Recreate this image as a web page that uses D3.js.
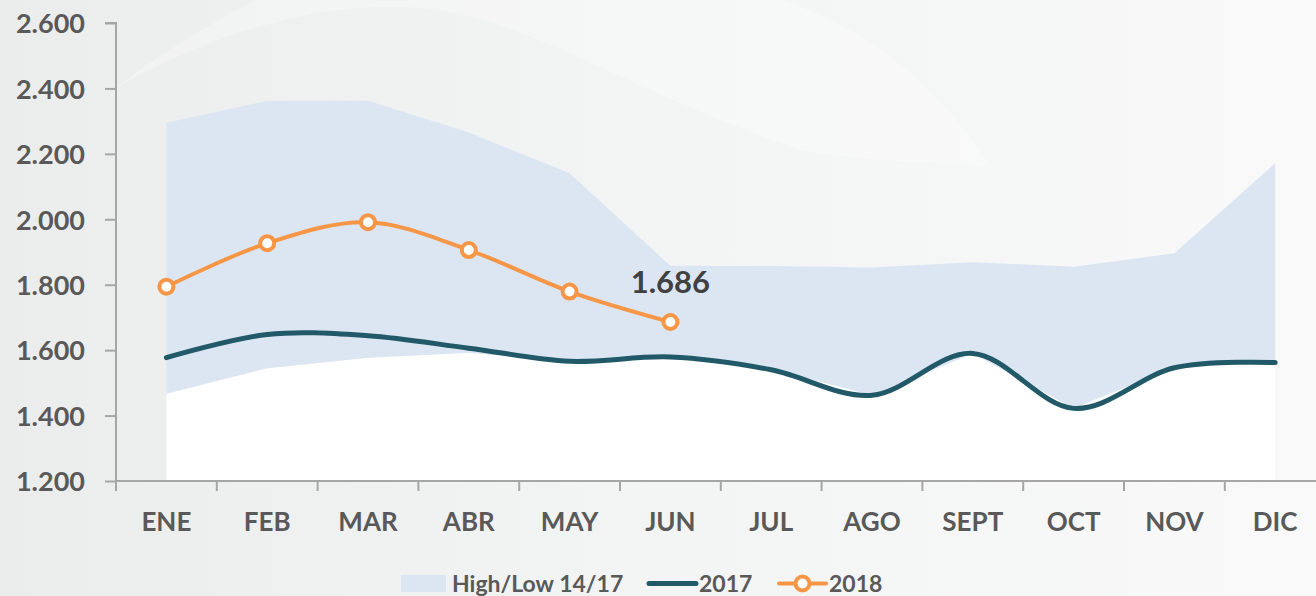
<!DOCTYPE html>
<html>
<head>
	<meta charset="UTF-8">
	<title>High/Low 14/17</title>
	<script src="https://d3js.org/d3.v7.min.js"></script>
	<style>
		body { margin: 0; background: #f0f0f0; }
		text { font-family: Lato, "Open Sans", sans-serif; font-weight: 700; }
	</style>
</head>
<body>
	<div id="chart"></div>

	<script>
		let months = ["ENE", "FEB", "MAR", "ABR", "MAY", "JUN", "JUL", "AGO", "SEPT", "OCT", "NOV", "DIC"];
		let high = [2295, 2362, 2362, 2265, 2141, 1858, 1857, 1853, 1869, 1855, 1896, 2172];
		let low = [1467, 1545, 1577, 1592, 1565, 1578, 1542, 1462, 1590, 1422, 1546, 1562];
		let y2017 = [1577, 1648, 1644, 1606, 1566, 1579, 1540, 1462, 1590, 1422, 1546, 1562];
		let y2018 = [1794, 1927, 1991, 1906, 1779, 1686];
		let yTicks = [1200, 1400, 1600, 1800, 2000, 2200, 2400, 2600];
		let legendLabels = ["High/Low 14/17", "2017", "2018"];

		let width = 1316;
		let height = 596;
		let left = 116;
		let step = 100.8;

		let svg = d3.select("#chart").append("svg")
			.attr("width", width)
			.attr("height", height);

		// background gradient + faint swoosh
		let defs = svg.append("defs");
		let grad = defs.append("linearGradient").attr("id", "bg");
		grad.append("stop").attr("offset", "0%").attr("stop-color", "#ebecec");
		grad.append("stop").attr("offset", "50%").attr("stop-color", "#f3f4f4");
		grad.append("stop").attr("offset", "100%").attr("stop-color", "#f9f9f9");
		svg.append("rect").attr("width", width).attr("height", height).attr("fill", "url(#bg)");

		svg.append("path")
			.attr("d", "M116,88 C200,40 300,5 400,7 C520,10 600,80 800,150 C880,165 950,160 992,168 C960,120 900,40 783,0 L255,0 C200,30 150,60 116,88 Z")
			.attr("fill", "#ffffff")
			.attr("opacity", 0.28);

		let fmt = d3.formatLocale({ decimal: ",", thousands: ".", grouping: [3], currency: ["", ""] }).format(",d");

		let x = d3.scaleBand()
			.domain(months)
			.range([left, left + step * months.length]);
		let cx = d => x(d) + x.bandwidth() / 2;

		let y = d3.scaleLinear()
			.domain([1200, 2600])
			.range([481, 23]);

		// white base under the low line, blue band between low and high
		let baseArea = d3.area()
			.x((d, i) => cx(months[i]))
			.y0(y(1200))
			.y1(d => y(d));
		svg.append("path")
			.datum(low)
			.attr("d", baseArea)
			.attr("fill", "#ffffff");

		let band = d3.area()
			.x((d, i) => cx(months[i]))
			.y0((d, i) => y(low[i]))
			.y1(d => y(d));
		svg.append("path")
			.datum(high)
			.attr("d", band)
			.attr("fill", "#dce6f2");

		// axes
		let yAxis = d3.axisLeft(y)
			.tickValues(yTicks)
			.tickSize(11)
			.tickPadding(20)
			.tickFormat(fmt);
		let gy = svg.append("g")
			.attr("transform", `translate(${left},0)`)
			.call(yAxis);
		gy.select(".domain").attr("stroke", "#a6a6a6").attr("stroke-width", 2)
			.attr("d", `M-11,${y(2600)}H0V${y(1200) + 10}`);
		gy.selectAll(".tick line").attr("stroke", "#a6a6a6").attr("stroke-width", 2);
		gy.selectAll(".tick text")
			.attr("fill", "#595959")
			.attr("font-size", 27)
			.attr("dy", "0.36em");

		svg.append("line")
			.attr("x1", left).attr("x2", width)
			.attr("y1", y(1200)).attr("y2", y(1200))
			.attr("stroke", "#a6a6a6")
			.attr("stroke-width", 2);

		svg.selectAll(".xtick")
			.data(months)
			.join("line")
			.attr("class", "xtick")
			.attr("x1", d => x(d)).attr("x2", d => x(d))
			.attr("y1", y(1200)).attr("y2", y(1200) + 10)
			.attr("stroke", "#a6a6a6")
			.attr("stroke-width", 2);

		svg.selectAll(".xlabel")
			.data(months)
			.join("text")
			.attr("class", "xlabel")
			.attr("x", d => cx(d))
			.attr("y", 531)
			.attr("text-anchor", "middle")
			.attr("fill", "#595959")
			.attr("font-size", 26)
			.text(d => d);

		// lines
		let line = d3.line()
			.x((d, i) => cx(months[i]))
			.y(d => y(d))
			.curve(d3.curveCardinal);

		svg.append("path")
			.datum(y2017)
			.attr("d", line)
			.attr("fill", "none")
			.attr("stroke", "#215968")
			.attr("stroke-width", 5)
			.attr("stroke-linecap", "round");

		svg.append("path")
			.datum(y2018)
			.attr("d", line)
			.attr("fill", "none")
			.attr("stroke", "#f79646")
			.attr("stroke-width", 4);

		svg.selectAll(".dot")
			.data(y2018)
			.join("circle")
			.attr("class", "dot")
			.attr("cx", (d, i) => cx(months[i]))
			.attr("cy", d => y(d))
			.attr("r", 7)
			.attr("fill", "#ffffff")
			.attr("stroke", "#f79646")
			.attr("stroke-width", 4);

		// label on last 2018 point
		let last = y2018.length - 1;
		svg.append("text")
			.attr("x", cx(months[last]))
			.attr("y", y(y2018[last]) - 29)
			.attr("text-anchor", "middle")
			.attr("fill", "#404040")
			.attr("font-size", 31)
			.text(fmt(y2018[last]));

		// legend
		let lg = svg.append("g");
		lg.append("rect")
			.attr("x", 401).attr("y", 575)
			.attr("width", 45).attr("height", 17)
			.attr("fill", "#dce6f2");
		lg.append("line")
			.attr("x1", 649).attr("x2", 696)
			.attr("y1", 583.5).attr("y2", 583.5)
			.attr("stroke", "#215968")
			.attr("stroke-width", 5)
			.attr("stroke-linecap", "round");
		lg.append("line")
			.attr("x1", 779).attr("x2", 826)
			.attr("y1", 583.5).attr("y2", 583.5)
			.attr("stroke", "#f79646")
			.attr("stroke-width", 4)
			.attr("stroke-linecap", "round");
		lg.append("circle")
			.attr("cx", 802.5).attr("cy", 583.5)
			.attr("r", 7)
			.attr("fill", "#ffffff")
			.attr("stroke", "#f79646")
			.attr("stroke-width", 4);
		lg.selectAll("text")
			.data(legendLabels)
			.join("text")
			.attr("x", (d, i) => [452, 699, 829][i])
			.attr("y", 592)
			.attr("fill", "#595959")
			.attr("font-size", 23)
			.text(d => d);
	</script>
</body>
</html>
